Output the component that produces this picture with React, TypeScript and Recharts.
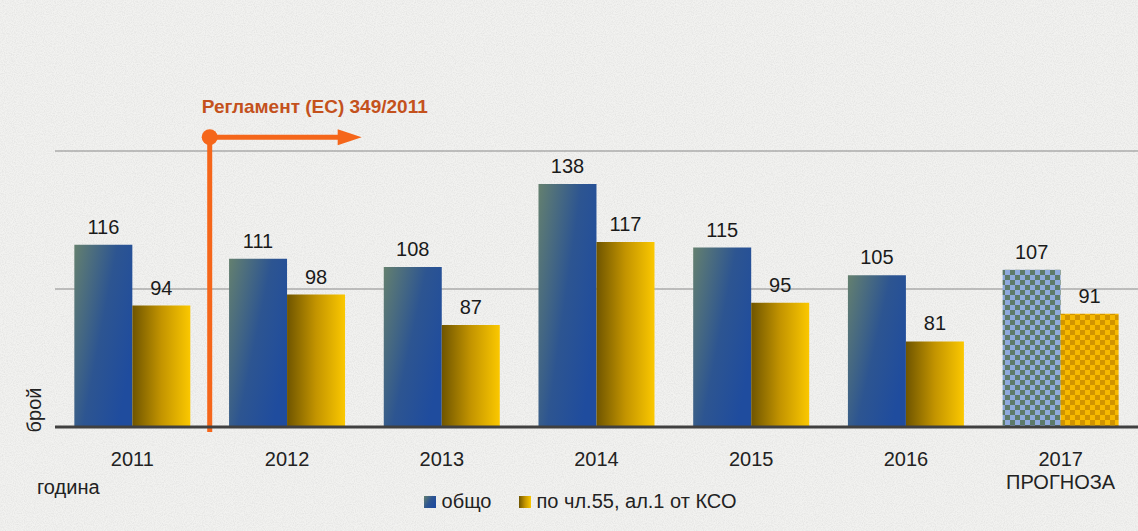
import { BarChart, Bar, XAxis, YAxis, CartesianGrid, LabelList, Cell, Customized } from "recharts";

const years = ["2011", "2012", "2013", "2014", "2015", "2016", "2017\nПРОГНОЗА"];
const total = [116, 111, 108, 138, 115, 105, 107];
const art55 = [94, 98, 87, 117, 95, 81, 91];
const yTicks = [50, 100, 150];

const data = years.map((year, i) => ({ year, total: total[i], art55: art55[i] }));

const W = 1138;
const H = 531;
const M = { top: 151, right: 0, left: 55, bottom: 44 };
const X_AXIS_H = 60;
const FONT = "'Liberation Sans', Arial, sans-serif";
const ORANGE = "#f5661a";

const YearTick = (props: any) => {
  const { x, y, payload } = props;
  const lines = String(payload.value).split("\n");
  return (
    <text x={x} y={y} textAnchor="middle" fontFamily={FONT} fontSize={20} fill="#222">
      {lines.map((l, i) => (
        <tspan key={i} x={x} dy={i === 0 ? 39 : 23}>
          {l}
        </tspan>
      ))}
    </text>
  );
};

// регламент marker between 2011 and 2012
const Annotation = () => {
  const plotW = W - M.left - M.right;
  const plotH = H - M.top - M.bottom - X_AXIS_H;
  const band = plotW / years.length;
  const x = M.left + band;
  const y = M.top + ((150 - 155) / 100) * plotH;
  const bottom = M.top + plotH + 5;
  return (
    <g>
      <line x1={x} y1={y} x2={x} y2={bottom} stroke={ORANGE} strokeWidth={5} />
      <line x1={x} y1={y} x2={x + 130} y2={y} stroke={ORANGE} strokeWidth={5} />
      <polygon points={`${x + 128},${y - 8} ${x + 152},${y} ${x + 128},${y + 8}`} fill={ORANGE} />
      <circle cx={x} cy={y} r={8} fill={ORANGE} />
      <text x={x - 8} y={y - 24} fontFamily={FONT} fontSize={19} fontWeight="bold" fill="#c4511c">
        Регламент (ЕС) 349/2011
      </text>
    </g>
  );
};

const Square = ({ fill }: { fill: string }) => (
  <svg width={12} height={12} style={{ marginRight: 6 }}>
    <rect width={12} height={12} fill={fill} />
  </svg>
);

export default function App() {
  return (
    <div style={{ position: "absolute", left: 0, top: 0, width: W, height: H, background: "#f2f2f0", fontFamily: FONT }}>
      <svg width={W} height={H} style={{ position: "absolute", left: 0, top: 0 }}>
        <filter id="grain">
          <feTurbulence type="fractalNoise" baseFrequency="0.9" numOctaves="2" seed="3" />
          <feColorMatrix type="matrix" values="0 0 0 0 0.55  0 0 0 0 0.55  0 0 0 0 0.55  0 0 0 -1.6 1.05" />
        </filter>
        <rect width={W} height={H} filter="url(#grain)" opacity={0.35} />
      </svg>
      <div style={{ position: "absolute", left: 0, top: 0 }}>
        <BarChart width={W} height={H} data={data} margin={M} barCategoryGap="12.5%" barGap={0}>
          <defs>
            <linearGradient id="gBlue" x1="0" y1="0" x2="1" y2="0.6">
              <stop offset="0%" stopColor="#64806f" />
              <stop offset="55%" stopColor="#2d5591" />
              <stop offset="100%" stopColor="#1f4c9e" />
            </linearGradient>
            <linearGradient id="gGold" x1="0" y1="0" x2="1" y2="0">
              <stop offset="0%" stopColor="#6f5500" />
              <stop offset="50%" stopColor="#c39400" />
              <stop offset="100%" stopColor="#fbc800" />
            </linearGradient>
            <pattern id="pBlue" width="10" height="10" patternUnits="userSpaceOnUse">
              <rect width="10" height="10" fill="#8fa9dc" />
              <rect width="5" height="5" fill="#5d7a6a" />
              <rect x="5" y="5" width="5" height="5" fill="#5d7a6a" />
            </pattern>
            <pattern id="pGold" width="10" height="10" patternUnits="userSpaceOnUse">
              <rect width="10" height="10" fill="#f7b900" />
              <rect width="5" height="5" fill="#d09400" />
              <rect x="5" y="5" width="5" height="5" fill="#d09400" />
            </pattern>
          </defs>
          <CartesianGrid vertical={false} stroke="#8a8a8a" strokeWidth={1.2} />
          <YAxis hide domain={[50, 150]} ticks={yTicks} allowDataOverflow />
          <XAxis
            dataKey="year"
            height={X_AXIS_H}
            tickLine={false}
            tickSize={0}
            tickMargin={0}
            axisLine={{ stroke: "#404040", strokeWidth: 3 }}
            tick={<YearTick />}
            interval={0}
          />
          <Bar dataKey="total" fill="url(#gBlue)" isAnimationActive={false}>
            {data.map((_, i) => (
              <Cell key={i} fill={i === data.length - 1 ? "url(#pBlue)" : "url(#gBlue)"} />
            ))}
            <LabelList dataKey="total" position="top" offset={11} fontFamily={FONT} fontSize={20} fill="#1a1a1a" />
          </Bar>
          <Bar dataKey="art55" fill="url(#gGold)" isAnimationActive={false}>
            {data.map((_, i) => (
              <Cell key={i} fill={i === data.length - 1 ? "url(#pGold)" : "url(#gGold)"} />
            ))}
            <LabelList dataKey="art55" position="top" offset={11} fontFamily={FONT} fontSize={20} fill="#1a1a1a" />
          </Bar>
          <Customized component={<Annotation />} />
          <text x={41} y={410} transform="rotate(-90 41 410)" textAnchor="middle" fontFamily={FONT} fontSize={20} fill="#222">
            брой
          </text>
          <text x={37} y={494} fontFamily={FONT} fontSize={20} fill="#222">
            година
          </text>
        </BarChart>
      </div>
      <div
        style={{
          position: "absolute",
          top: 490,
          left: 0,
          width: W,
          display: "flex",
          justifyContent: "center",
          paddingLeft: 22,
          boxSizing: "border-box",
          fontSize: 20,
          color: "#222",
          alignItems: "center",
        }}
      >
        <span style={{ display: "flex", alignItems: "center", marginRight: 27 }}>
          <Square fill="url(#gBlue)" />
          общо
        </span>
        <span style={{ display: "flex", alignItems: "center" }}>
          <Square fill="url(#gGold)" />
          по чл.55, ал.1 от КСО
        </span>
      </div>
    </div>
  );
}
